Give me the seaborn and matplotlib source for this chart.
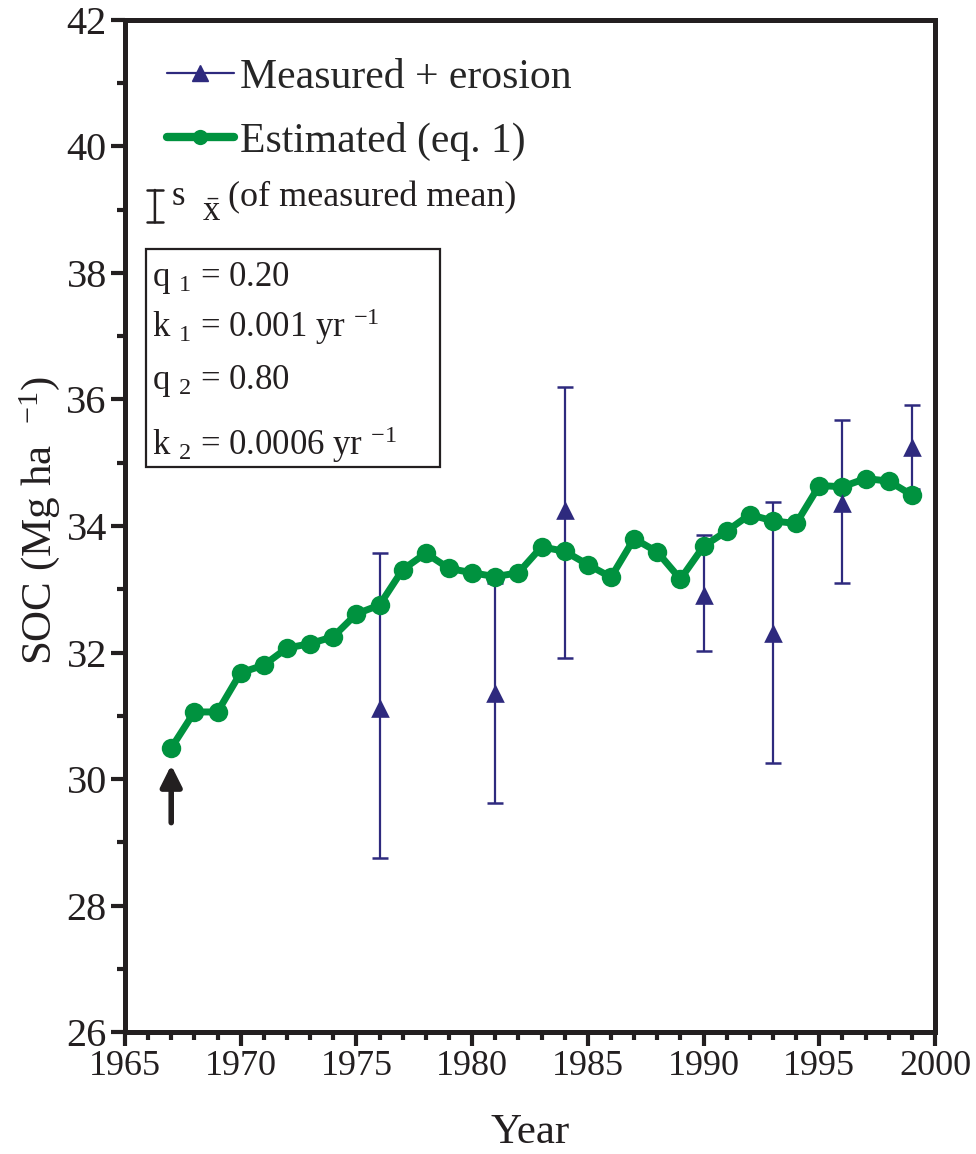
import numpy as np
import matplotlib
matplotlib.use("Agg")
import matplotlib.pyplot as plt
from matplotlib.lines import Line2D
from matplotlib.patches import Rectangle
from matplotlib.ticker import MultipleLocator
import seaborn as sns

# ---------------- data ----------------
years_est = [1967, 1968, 1969, 1970, 1971, 1972, 1973, 1974, 1975, 1976,
             1977, 1978, 1979, 1980, 1981, 1982, 1983, 1984, 1985, 1986,
             1987, 1988, 1989, 1990, 1991, 1992, 1993, 1994, 1995, 1996,
             1997, 1998, 1999]
soc_est = [30.49, 31.06, 31.06, 31.68, 31.80, 32.07, 32.14, 32.25, 32.61, 32.75,
           33.31, 33.57, 33.33, 33.26, 33.20, 33.26, 33.67, 33.60, 33.39, 33.19,
           33.80, 33.59, 33.16, 33.68, 33.92, 34.18, 34.08, 34.04, 34.64, 34.62,
           34.75, 34.71, 34.49]

years_meas = [1976, 1981, 1984, 1990, 1993, 1996, 1999]
soc_meas = [31.13, 31.36, 34.25, 32.91, 32.31, 34.36, 35.25]
meas_low = [28.75, 29.62, 31.91, 32.02, 30.25, 33.10, 34.59]
meas_high = [33.57, 33.10, 36.19, 33.86, 34.38, 35.68, 35.91]

param_lines = [r"q $_{1}$ = 0.20",
               r"k $_{1}$ = 0.001 yr $^{-1}$",
               r"q $_{2}$ = 0.80",
               r"k $_{2}$ = 0.0006 yr $^{-1}$"]

x_ticks = [1965, 1970, 1975, 1980, 1985, 1990, 1995, 2000]
y_ticks = [26, 28, 30, 32, 34, 36, 38, 40, 42]

# ---------------- style ----------------
sns.set_theme(style="ticks")
plt.rcParams['font.family'] = ['Liberation Serif', 'DejaVu Serif']
plt.rcParams['mathtext.fontset'] = 'custom'
plt.rcParams['mathtext.rm'] = 'Liberation Serif'
plt.rcParams['mathtext.it'] = 'Liberation Serif'
plt.rcParams['mathtext.bf'] = 'Liberation Serif:bold'
plt.rcParams['mathtext.default'] = 'regular'

green = '#00923F'
navy = '#2E2A7E'
ink = '#231F20'

fig = plt.figure(figsize=(9.76, 11.54), dpi=100)
ax = fig.add_axes([0.128, 0.1057, 0.830, 0.877])

yerr = [np.array(soc_meas) - np.array(meas_low),
        np.array(meas_high) - np.array(soc_meas)]
ax.errorbar(years_meas, soc_meas, yerr=yerr, fmt='none', ecolor=navy,
            elinewidth=1.6, capsize=5.5, capthick=1.8, zorder=2)

sns.lineplot(x=years_est, y=soc_est, ax=ax, color=green, linewidth=5,
             marker='o', markersize=14, markeredgewidth=0, zorder=3)

sns.scatterplot(x=years_meas, y=soc_meas, ax=ax, marker='^', s=180,
                color=navy, edgecolor=navy, linewidth=0, zorder=4)

# arrow marking the start year
ax.annotate('', xy=(years_est[0], soc_est[0] - 0.27),
            xytext=(years_est[0], soc_est[0] - 1.18),
            arrowprops=dict(arrowstyle='-|>', color=ink, lw=4,
                            mutation_scale=32, shrinkA=0, shrinkB=0),
            zorder=5)

# axes
ax.set_xlim(1965, 2000)
ax.set_ylim(26, 42)
ax.set_xticks(x_ticks)
ax.set_yticks(y_ticks)
ax.xaxis.set_minor_locator(MultipleLocator(1))
ax.yaxis.set_minor_locator(MultipleLocator(1))
ax.tick_params(axis='both', which='major', direction='out', length=10,
               width=3, color=ink, labelcolor=ink, pad=3)
ax.tick_params(axis='both', which='minor', direction='out', length=6,
               width=3, color=ink)
ax.tick_params(axis='x', labelsize=26)
ax.tick_params(axis='y', labelsize=29)
for s in ax.spines.values():
    s.set_linewidth(3.6)
    s.set_color(ink)
    s.set_visible(True)

ax.set_xlabel('Year', fontsize=31, color=ink, labelpad=22)
ax.set_ylabel(r'SOC (Mg ha  $^{-1}$)', fontsize=31, color=ink)
ax.yaxis.set_label_coords(-0.078, 0.505)

# legend
handles = [Line2D([], [], color=navy, lw=1.6, marker='^', markersize=11),
           Line2D([], [], color=green, lw=6, marker='o', markersize=11,
                  markeredgewidth=0)]
labels = ['Measured + erosion', 'Estimated (eq. 1)']
ax.legend(handles, labels, loc='upper left', bbox_to_anchor=(0.052, 0.962),
          frameon=False, fontsize=30, handlelength=1.6, handletextpad=0.15,
          labelspacing=0.6, borderpad=0, borderaxespad=0)

# error bar key
ax.annotate('', xy=(0.037, 0.800), xytext=(0.037, 0.832),
            xycoords='axes fraction', textcoords='axes fraction',
            arrowprops=dict(arrowstyle='|-|', color=ink, lw=1.8,
                            mutation_scale=6, shrinkA=0, shrinkB=0))
ax.text(0.058, 0.826, "s", transform=ax.transAxes,
        fontsize=25, color=ink, va='center', ha='left')
ax.text(0.095, 0.810, r"$\bar{x}$", transform=ax.transAxes,
        fontsize=25, color=ink, va='center', ha='left')
ax.text(0.127, 0.824, "(of measured mean)", transform=ax.transAxes,
        fontsize=26, color=ink, va='center', ha='left')

# parameter box
ax.add_patch(Rectangle((0.026, 0.558), 0.363, 0.216, transform=ax.transAxes,
                       fill=False, edgecolor=ink, lw=1.6, zorder=5))
for txt, yy in zip(param_lines, [0.745, 0.697, 0.643, 0.580]):
    ax.text(0.033, yy, txt, transform=ax.transAxes, fontsize=25, color=ink,
            va='center', ha='left', zorder=6)

fig.savefig('out.png', dpi=100)
